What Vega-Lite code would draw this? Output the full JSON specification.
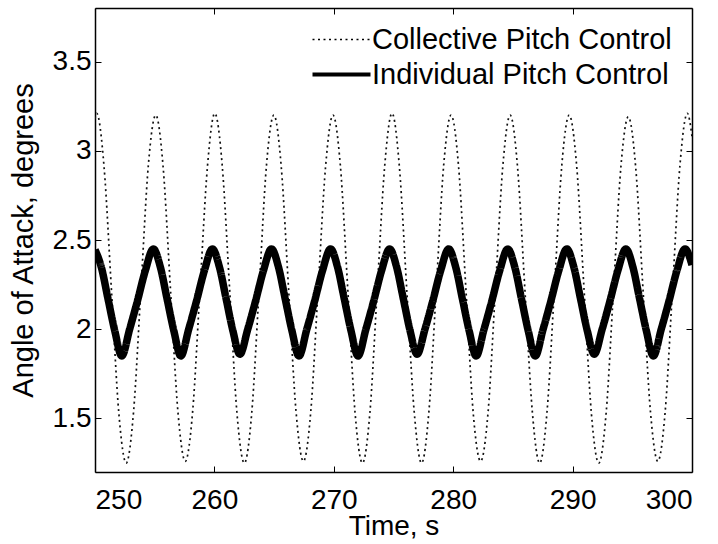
{
  "$schema": "https://vega.github.io/schema/vega-lite/v6.json",
  "width": 597,
  "height": 464,
  "autosize": {"type": "none"},
  "padding": {"left": 95, "top": 8, "right": 26, "bottom": 72},
  "background": "white",
  "config": {
    "view": {"stroke": null},
    "font": "Liberation Sans",
    "axis": {
      "grid": false,
      "domainColor": "#000",
      "domainWidth": 1.5,
      "tickColor": "#000",
      "tickWidth": 1,
      "tickSize": -6,
      "labelColor": "#000",
      "labelFont": "Liberation Sans",
      "labelFontSize": 28,
      "titleColor": "#000",
      "titleFont": "Liberation Sans",
      "titleFontSize": 28,
      "titleFontWeight": "normal"
    },
    "legend": {
      "labelFont": "Liberation Sans",
      "labelFontSize": 29,
      "labelColor": "#000",
      "labelLimit": 600
    }
  },
  "data": {
    "values": [
      {"t": 250.0, "aoa": 3.18, "series": "Collective Pitch Control"},
      {"t": 250.14, "aoa": 3.21, "series": "Collective Pitch Control"},
      {"t": 250.758, "aoa": 2.91, "series": "Collective Pitch Control"},
      {"t": 251.377, "aoa": 2.22, "series": "Collective Pitch Control"},
      {"t": 251.995, "aoa": 1.53, "series": "Collective Pitch Control"},
      {"t": 252.614, "aoa": 1.25, "series": "Collective Pitch Control"},
      {"t": 253.232, "aoa": 1.54, "series": "Collective Pitch Control"},
      {"t": 253.85, "aoa": 2.23, "series": "Collective Pitch Control"},
      {"t": 254.469, "aoa": 2.92, "series": "Collective Pitch Control"},
      {"t": 255.087, "aoa": 3.2, "series": "Collective Pitch Control"},
      {"t": 255.705, "aoa": 2.91, "series": "Collective Pitch Control"},
      {"t": 256.324, "aoa": 2.22, "series": "Collective Pitch Control"},
      {"t": 256.942, "aoa": 1.54, "series": "Collective Pitch Control"},
      {"t": 257.561, "aoa": 1.26, "series": "Collective Pitch Control"},
      {"t": 258.179, "aoa": 1.54, "series": "Collective Pitch Control"},
      {"t": 258.797, "aoa": 2.23, "series": "Collective Pitch Control"},
      {"t": 259.416, "aoa": 2.91, "series": "Collective Pitch Control"},
      {"t": 260.034, "aoa": 3.21, "series": "Collective Pitch Control"},
      {"t": 260.652, "aoa": 2.92, "series": "Collective Pitch Control"},
      {"t": 261.271, "aoa": 2.23, "series": "Collective Pitch Control"},
      {"t": 261.889, "aoa": 1.53, "series": "Collective Pitch Control"},
      {"t": 262.508, "aoa": 1.25, "series": "Collective Pitch Control"},
      {"t": 263.126, "aoa": 1.53, "series": "Collective Pitch Control"},
      {"t": 263.744, "aoa": 2.22, "series": "Collective Pitch Control"},
      {"t": 264.363, "aoa": 2.92, "series": "Collective Pitch Control"},
      {"t": 264.981, "aoa": 3.2, "series": "Collective Pitch Control"},
      {"t": 265.599, "aoa": 2.91, "series": "Collective Pitch Control"},
      {"t": 266.218, "aoa": 2.22, "series": "Collective Pitch Control"},
      {"t": 266.836, "aoa": 1.54, "series": "Collective Pitch Control"},
      {"t": 267.455, "aoa": 1.26, "series": "Collective Pitch Control"},
      {"t": 268.073, "aoa": 1.54, "series": "Collective Pitch Control"},
      {"t": 268.691, "aoa": 2.23, "series": "Collective Pitch Control"},
      {"t": 269.31, "aoa": 2.91, "series": "Collective Pitch Control"},
      {"t": 269.928, "aoa": 3.2, "series": "Collective Pitch Control"},
      {"t": 270.546, "aoa": 2.92, "series": "Collective Pitch Control"},
      {"t": 271.165, "aoa": 2.23, "series": "Collective Pitch Control"},
      {"t": 271.783, "aoa": 1.53, "series": "Collective Pitch Control"},
      {"t": 272.402, "aoa": 1.25, "series": "Collective Pitch Control"},
      {"t": 273.02, "aoa": 1.53, "series": "Collective Pitch Control"},
      {"t": 273.638, "aoa": 2.22, "series": "Collective Pitch Control"},
      {"t": 274.257, "aoa": 2.91, "series": "Collective Pitch Control"},
      {"t": 274.875, "aoa": 3.21, "series": "Collective Pitch Control"},
      {"t": 275.493, "aoa": 2.91, "series": "Collective Pitch Control"},
      {"t": 276.112, "aoa": 2.22, "series": "Collective Pitch Control"},
      {"t": 276.73, "aoa": 1.54, "series": "Collective Pitch Control"},
      {"t": 277.349, "aoa": 1.25, "series": "Collective Pitch Control"},
      {"t": 277.967, "aoa": 1.54, "series": "Collective Pitch Control"},
      {"t": 278.585, "aoa": 2.23, "series": "Collective Pitch Control"},
      {"t": 279.204, "aoa": 2.92, "series": "Collective Pitch Control"},
      {"t": 279.822, "aoa": 3.2, "series": "Collective Pitch Control"},
      {"t": 280.44, "aoa": 2.92, "series": "Collective Pitch Control"},
      {"t": 281.059, "aoa": 2.23, "series": "Collective Pitch Control"},
      {"t": 281.677, "aoa": 1.53, "series": "Collective Pitch Control"},
      {"t": 282.296, "aoa": 1.26, "series": "Collective Pitch Control"},
      {"t": 282.914, "aoa": 1.53, "series": "Collective Pitch Control"},
      {"t": 283.532, "aoa": 2.22, "series": "Collective Pitch Control"},
      {"t": 284.151, "aoa": 2.91, "series": "Collective Pitch Control"},
      {"t": 284.769, "aoa": 3.2, "series": "Collective Pitch Control"},
      {"t": 285.387, "aoa": 2.91, "series": "Collective Pitch Control"},
      {"t": 286.006, "aoa": 2.22, "series": "Collective Pitch Control"},
      {"t": 286.624, "aoa": 1.54, "series": "Collective Pitch Control"},
      {"t": 287.243, "aoa": 1.25, "series": "Collective Pitch Control"},
      {"t": 287.861, "aoa": 1.54, "series": "Collective Pitch Control"},
      {"t": 288.479, "aoa": 2.23, "series": "Collective Pitch Control"},
      {"t": 289.098, "aoa": 2.92, "series": "Collective Pitch Control"},
      {"t": 289.716, "aoa": 3.2, "series": "Collective Pitch Control"},
      {"t": 290.334, "aoa": 2.92, "series": "Collective Pitch Control"},
      {"t": 290.953, "aoa": 2.23, "series": "Collective Pitch Control"},
      {"t": 291.571, "aoa": 1.53, "series": "Collective Pitch Control"},
      {"t": 292.19, "aoa": 1.25, "series": "Collective Pitch Control"},
      {"t": 292.808, "aoa": 1.53, "series": "Collective Pitch Control"},
      {"t": 293.426, "aoa": 2.22, "series": "Collective Pitch Control"},
      {"t": 294.045, "aoa": 2.91, "series": "Collective Pitch Control"},
      {"t": 294.663, "aoa": 3.19, "series": "Collective Pitch Control"},
      {"t": 295.281, "aoa": 2.91, "series": "Collective Pitch Control"},
      {"t": 295.9, "aoa": 2.22, "series": "Collective Pitch Control"},
      {"t": 296.518, "aoa": 1.54, "series": "Collective Pitch Control"},
      {"t": 297.137, "aoa": 1.26, "series": "Collective Pitch Control"},
      {"t": 297.755, "aoa": 1.54, "series": "Collective Pitch Control"},
      {"t": 298.373, "aoa": 2.23, "series": "Collective Pitch Control"},
      {"t": 298.992, "aoa": 2.92, "series": "Collective Pitch Control"},
      {"t": 299.61, "aoa": 3.21, "series": "Collective Pitch Control"},
      {"t": 300.0, "aoa": 3.08, "series": "Collective Pitch Control"},

      {"t": 250.0, "aoa": 2.445, "series": "Individual Pitch Control"},
      {"t": 250.52, "aoa": 2.35, "series": "Individual Pitch Control"},
      {"t": 251.09, "aoa": 2.17, "series": "Individual Pitch Control"},
      {"t": 251.66, "aoa": 1.99, "series": "Individual Pitch Control"},
      {"t": 252.24, "aoa": 1.85, "series": "Individual Pitch Control"},
      {"t": 252.9, "aoa": 2.0, "series": "Individual Pitch Control"},
      {"t": 253.56, "aoa": 2.16, "series": "Individual Pitch Control"},
      {"t": 254.22, "aoa": 2.33, "series": "Individual Pitch Control"},
      {"t": 254.887, "aoa": 2.45, "series": "Individual Pitch Control"},
      {"t": 255.467, "aoa": 2.35, "series": "Individual Pitch Control"},
      {"t": 256.037, "aoa": 2.17, "series": "Individual Pitch Control"},
      {"t": 256.607, "aoa": 1.99, "series": "Individual Pitch Control"},
      {"t": 257.187, "aoa": 1.85, "series": "Individual Pitch Control"},
      {"t": 257.847, "aoa": 2.0, "series": "Individual Pitch Control"},
      {"t": 258.507, "aoa": 2.16, "series": "Individual Pitch Control"},
      {"t": 259.167, "aoa": 2.33, "series": "Individual Pitch Control"},
      {"t": 259.834, "aoa": 2.45, "series": "Individual Pitch Control"},
      {"t": 260.414, "aoa": 2.35, "series": "Individual Pitch Control"},
      {"t": 260.984, "aoa": 2.17, "series": "Individual Pitch Control"},
      {"t": 261.554, "aoa": 1.99, "series": "Individual Pitch Control"},
      {"t": 262.134, "aoa": 1.86, "series": "Individual Pitch Control"},
      {"t": 262.794, "aoa": 2.0, "series": "Individual Pitch Control"},
      {"t": 263.454, "aoa": 2.16, "series": "Individual Pitch Control"},
      {"t": 264.114, "aoa": 2.33, "series": "Individual Pitch Control"},
      {"t": 264.781, "aoa": 2.45, "series": "Individual Pitch Control"},
      {"t": 265.361, "aoa": 2.35, "series": "Individual Pitch Control"},
      {"t": 265.931, "aoa": 2.17, "series": "Individual Pitch Control"},
      {"t": 266.501, "aoa": 1.99, "series": "Individual Pitch Control"},
      {"t": 267.081, "aoa": 1.85, "series": "Individual Pitch Control"},
      {"t": 267.741, "aoa": 2.0, "series": "Individual Pitch Control"},
      {"t": 268.401, "aoa": 2.16, "series": "Individual Pitch Control"},
      {"t": 269.061, "aoa": 2.33, "series": "Individual Pitch Control"},
      {"t": 269.728, "aoa": 2.45, "series": "Individual Pitch Control"},
      {"t": 270.308, "aoa": 2.35, "series": "Individual Pitch Control"},
      {"t": 270.878, "aoa": 2.17, "series": "Individual Pitch Control"},
      {"t": 271.448, "aoa": 1.99, "series": "Individual Pitch Control"},
      {"t": 272.028, "aoa": 1.85, "series": "Individual Pitch Control"},
      {"t": 272.688, "aoa": 2.0, "series": "Individual Pitch Control"},
      {"t": 273.348, "aoa": 2.16, "series": "Individual Pitch Control"},
      {"t": 274.008, "aoa": 2.33, "series": "Individual Pitch Control"},
      {"t": 274.675, "aoa": 2.45, "series": "Individual Pitch Control"},
      {"t": 275.255, "aoa": 2.35, "series": "Individual Pitch Control"},
      {"t": 275.825, "aoa": 2.17, "series": "Individual Pitch Control"},
      {"t": 276.395, "aoa": 1.99, "series": "Individual Pitch Control"},
      {"t": 276.975, "aoa": 1.86, "series": "Individual Pitch Control"},
      {"t": 277.635, "aoa": 2.0, "series": "Individual Pitch Control"},
      {"t": 278.295, "aoa": 2.16, "series": "Individual Pitch Control"},
      {"t": 278.955, "aoa": 2.33, "series": "Individual Pitch Control"},
      {"t": 279.622, "aoa": 2.45, "series": "Individual Pitch Control"},
      {"t": 280.202, "aoa": 2.35, "series": "Individual Pitch Control"},
      {"t": 280.772, "aoa": 2.17, "series": "Individual Pitch Control"},
      {"t": 281.342, "aoa": 1.99, "series": "Individual Pitch Control"},
      {"t": 281.922, "aoa": 1.85, "series": "Individual Pitch Control"},
      {"t": 282.582, "aoa": 2.0, "series": "Individual Pitch Control"},
      {"t": 283.242, "aoa": 2.16, "series": "Individual Pitch Control"},
      {"t": 283.902, "aoa": 2.33, "series": "Individual Pitch Control"},
      {"t": 284.569, "aoa": 2.45, "series": "Individual Pitch Control"},
      {"t": 285.149, "aoa": 2.35, "series": "Individual Pitch Control"},
      {"t": 285.719, "aoa": 2.17, "series": "Individual Pitch Control"},
      {"t": 286.289, "aoa": 1.99, "series": "Individual Pitch Control"},
      {"t": 286.869, "aoa": 1.85, "series": "Individual Pitch Control"},
      {"t": 287.529, "aoa": 2.0, "series": "Individual Pitch Control"},
      {"t": 288.189, "aoa": 2.16, "series": "Individual Pitch Control"},
      {"t": 288.849, "aoa": 2.33, "series": "Individual Pitch Control"},
      {"t": 289.516, "aoa": 2.45, "series": "Individual Pitch Control"},
      {"t": 290.096, "aoa": 2.35, "series": "Individual Pitch Control"},
      {"t": 290.666, "aoa": 2.17, "series": "Individual Pitch Control"},
      {"t": 291.236, "aoa": 1.99, "series": "Individual Pitch Control"},
      {"t": 291.816, "aoa": 1.86, "series": "Individual Pitch Control"},
      {"t": 292.476, "aoa": 2.0, "series": "Individual Pitch Control"},
      {"t": 293.136, "aoa": 2.16, "series": "Individual Pitch Control"},
      {"t": 293.796, "aoa": 2.33, "series": "Individual Pitch Control"},
      {"t": 294.463, "aoa": 2.45, "series": "Individual Pitch Control"},
      {"t": 295.043, "aoa": 2.35, "series": "Individual Pitch Control"},
      {"t": 295.613, "aoa": 2.17, "series": "Individual Pitch Control"},
      {"t": 296.183, "aoa": 1.99, "series": "Individual Pitch Control"},
      {"t": 296.763, "aoa": 1.85, "series": "Individual Pitch Control"},
      {"t": 297.423, "aoa": 2.0, "series": "Individual Pitch Control"},
      {"t": 298.083, "aoa": 2.16, "series": "Individual Pitch Control"},
      {"t": 298.743, "aoa": 2.33, "series": "Individual Pitch Control"},
      {"t": 299.41, "aoa": 2.45, "series": "Individual Pitch Control"},
      {"t": 300.0, "aoa": 2.36, "series": "Individual Pitch Control"}
    ]
  },
  "layer": [
    {
      "transform": [{"filter": "datum.series === 'Collective Pitch Control'"}],
      "mark": {"type": "line", "strokeWidth": 1.7, "color": "#111", "interpolate": "monotone", "clip": true},
      "encoding": {
        "x": {
          "field": "t", "type": "quantitative",
          "scale": {"domain": [250, 300], "nice": false, "zero": false},
          "axis": {"orient": "bottom", "values": [250, 260, 270, 280, 290, 300], "title": "Time, s", "labelPadding": 20, "titlePadding": -2, "format": "d"}
        },
        "y": {
          "field": "aoa", "type": "quantitative",
          "scale": {"domain": [1.2, 3.8], "nice": false, "zero": false},
          "axis": {"orient": "left", "values": [1.5, 2, 2.5, 3, 3.5], "title": "Angle of Attack, degrees", "titleFontSize": 29, "format": "~g", "labelPadding": 10, "titlePadding": 14}
        },
        "strokeDash": {
          "field": "series", "type": "nominal",
          "scale": {"domain": ["Collective Pitch Control", "Individual Pitch Control"], "range": [[2, 3.5], [1, 0]]},
          "legend": {
            "orient": "none", "legendX": 232, "legendY": 17, "title": null,
            "symbolType": "stroke", "symbolSize": 3364, "symbolStrokeColor": "#000",
            "symbolStrokeWidth": 2, "labelOffset": 16, "rowPadding": 5,
            "encode": {"symbols": {"update": {"strokeWidth": {"signal": "datum.value === 'Individual Pitch Control' ? 4 : 1.3"}}}}
          }
        }
      }
    },
    {
      "transform": [{"filter": "datum.series === 'Individual Pitch Control'"}],
      "mark": {"type": "line", "strokeWidth": 7.5, "color": "#000", "interpolate": "monotone", "clip": true, "strokeJoin": "round"},
      "encoding": {
        "x": {
          "field": "t", "type": "quantitative",
          "scale": {"domain": [250, 300], "nice": false, "zero": false},
          "axis": {"orient": "top", "values": [250, 260, 270, 280, 290, 300], "labels": false, "title": null}
        },
        "y": {
          "field": "aoa", "type": "quantitative",
          "scale": {"domain": [1.2, 3.8], "nice": false, "zero": false},
          "axis": {"orient": "right", "values": [1.5, 2, 2.5, 3, 3.5], "labels": false, "title": null}
        },
        "strokeDash": {"field": "series", "type": "nominal"}
      }
    }
  ],
  "resolve": {"axis": {"x": "independent", "y": "independent"}}
}
